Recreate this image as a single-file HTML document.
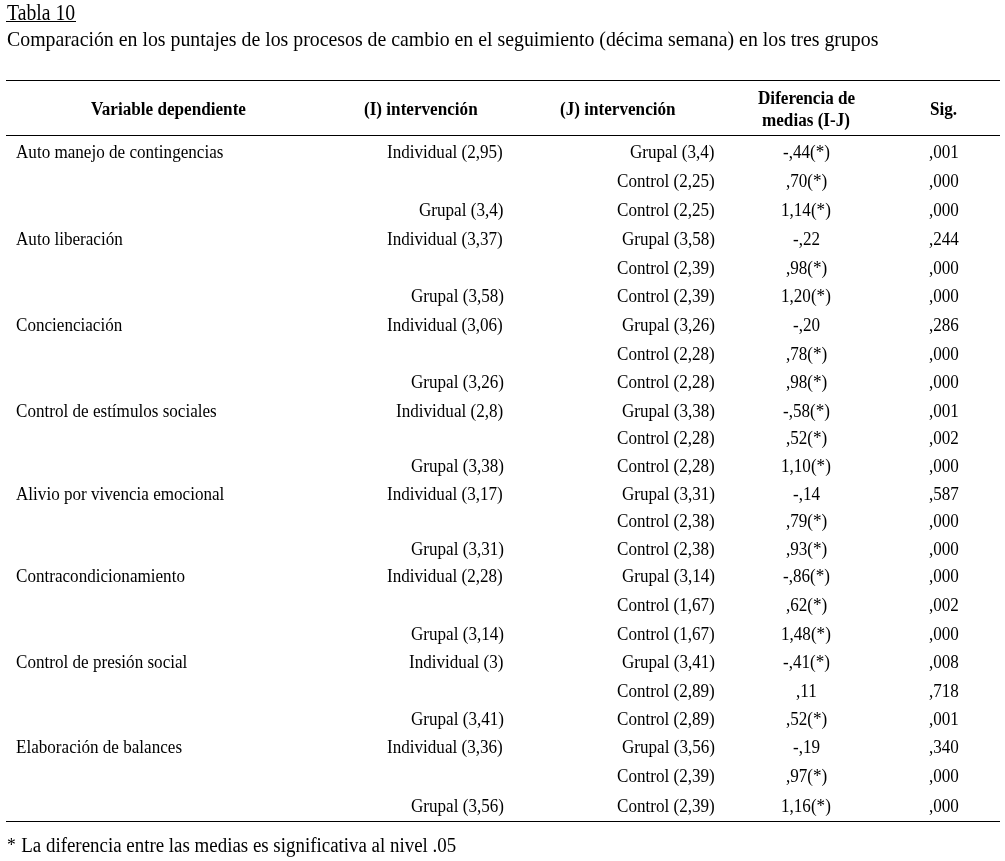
<!DOCTYPE html>
<html lang="es"><head><meta charset="utf-8"><title>Tabla 10</title>
<style>
html,body{margin:0;padding:0;background:#fff;}
body{width:1005px;height:861px;position:relative;overflow:hidden;filter:grayscale(1);font-family:"Liberation Serif","Times New Roman",serif;color:#000;}
.t{position:absolute;white-space:nowrap;transform-origin:0 0;color:#000;}
.rule{position:absolute;left:6px;width:994px;height:1px;background:#000;}
</style></head><body>
<div class="rule" style="left:6px;top:21px;width:70px"></div>
<div class="rule" style="top:80px"></div>
<div class="rule" style="top:135px"></div>
<div class="rule" style="top:821px"></div>
<div class="t" style="left:7.20px;top:0px;font-size:24px;line-height:24px;transform:scaleX(0.821);">Tabla 10</div>
<div class="t" style="left:7.10px;top:28px;font-size:22px;line-height:22px;transform:scaleX(0.901);">Comparación en los puntajes de los procesos de cambio en el seguimiento (décima semana) en los tres grupos</div>
<div class="t" style="left:90.87px;top:99px;font-size:19.7px;line-height:19.7px;transform:scaleX(0.87);font-weight:bold;">Variable dependiente</div>
<div class="t" style="left:364.12px;top:99px;font-size:19.7px;line-height:19.7px;transform:scaleX(0.87);font-weight:bold;">(I) intervención</div>
<div class="t" style="left:560.01px;top:99px;font-size:19.7px;line-height:19.7px;transform:scaleX(0.87);font-weight:bold;">(J) intervención</div>
<div class="t" style="left:757.62px;top:88px;font-size:19.7px;line-height:19.7px;transform:scaleX(0.87);font-weight:bold;">Diferencia de</div>
<div class="t" style="left:762.07px;top:110px;font-size:19.7px;line-height:19.7px;transform:scaleX(0.87);font-weight:bold;">medias (I-J)</div>
<div class="t" style="left:930.41px;top:99px;font-size:19.7px;line-height:19.7px;transform:scaleX(0.87);font-weight:bold;">Sig.</div>
<div class="t" style="left:15.93px;top:142px;font-size:19.7px;line-height:19.7px;transform:scaleX(0.868);">Auto manejo de contingencias</div>
<div class="t" style="left:387.36px;top:142px;font-size:19.7px;line-height:19.7px;transform:scaleX(0.868);">Individual (2,95)</div>
<div class="t" style="left:629.80px;top:142px;font-size:19.7px;line-height:19.7px;transform:scaleX(0.868);">Grupal (3,4)</div>
<div class="t" style="left:782.71px;top:142px;font-size:19.7px;line-height:19.7px;transform:scaleX(0.868);">-,44(*)</div>
<div class="t" style="left:929.05px;top:142px;font-size:19.7px;line-height:19.7px;transform:scaleX(0.868);">,001</div>
<div class="t" style="left:616.78px;top:171px;font-size:19.7px;line-height:19.7px;transform:scaleX(0.868);">Control (2,25)</div>
<div class="t" style="left:785.55px;top:171px;font-size:19.7px;line-height:19.7px;transform:scaleX(0.868);">,70(*)</div>
<div class="t" style="left:929.05px;top:171px;font-size:19.7px;line-height:19.7px;transform:scaleX(0.868);">,000</div>
<div class="t" style="left:418.60px;top:200px;font-size:19.7px;line-height:19.7px;transform:scaleX(0.868);">Grupal (3,4)</div>
<div class="t" style="left:616.78px;top:200px;font-size:19.7px;line-height:19.7px;transform:scaleX(0.868);">Control (2,25)</div>
<div class="t" style="left:781.28px;top:200px;font-size:19.7px;line-height:19.7px;transform:scaleX(0.868);">1,14(*)</div>
<div class="t" style="left:929.05px;top:200px;font-size:19.7px;line-height:19.7px;transform:scaleX(0.868);">,000</div>
<div class="t" style="left:15.93px;top:229px;font-size:19.7px;line-height:19.7px;transform:scaleX(0.868);">Auto liberación</div>
<div class="t" style="left:387.36px;top:229px;font-size:19.7px;line-height:19.7px;transform:scaleX(0.868);">Individual (3,37)</div>
<div class="t" style="left:621.99px;top:229px;font-size:19.7px;line-height:19.7px;transform:scaleX(0.868);">Grupal (3,58)</div>
<div class="t" style="left:792.67px;top:229px;font-size:19.7px;line-height:19.7px;transform:scaleX(0.868);">-,22</div>
<div class="t" style="left:929.05px;top:229px;font-size:19.7px;line-height:19.7px;transform:scaleX(0.868);">,244</div>
<div class="t" style="left:616.78px;top:258px;font-size:19.7px;line-height:19.7px;transform:scaleX(0.868);">Control (2,39)</div>
<div class="t" style="left:785.55px;top:258px;font-size:19.7px;line-height:19.7px;transform:scaleX(0.868);">,98(*)</div>
<div class="t" style="left:929.05px;top:258px;font-size:19.7px;line-height:19.7px;transform:scaleX(0.868);">,000</div>
<div class="t" style="left:410.79px;top:286px;font-size:19.7px;line-height:19.7px;transform:scaleX(0.868);">Grupal (3,58)</div>
<div class="t" style="left:616.78px;top:286px;font-size:19.7px;line-height:19.7px;transform:scaleX(0.868);">Control (2,39)</div>
<div class="t" style="left:781.28px;top:286px;font-size:19.7px;line-height:19.7px;transform:scaleX(0.868);">1,20(*)</div>
<div class="t" style="left:929.05px;top:286px;font-size:19.7px;line-height:19.7px;transform:scaleX(0.868);">,000</div>
<div class="t" style="left:15.93px;top:315px;font-size:19.7px;line-height:19.7px;transform:scaleX(0.868);">Concienciación</div>
<div class="t" style="left:387.36px;top:315px;font-size:19.7px;line-height:19.7px;transform:scaleX(0.868);">Individual (3,06)</div>
<div class="t" style="left:621.99px;top:315px;font-size:19.7px;line-height:19.7px;transform:scaleX(0.868);">Grupal (3,26)</div>
<div class="t" style="left:792.67px;top:315px;font-size:19.7px;line-height:19.7px;transform:scaleX(0.868);">-,20</div>
<div class="t" style="left:929.05px;top:315px;font-size:19.7px;line-height:19.7px;transform:scaleX(0.868);">,286</div>
<div class="t" style="left:616.78px;top:344px;font-size:19.7px;line-height:19.7px;transform:scaleX(0.868);">Control (2,28)</div>
<div class="t" style="left:785.55px;top:344px;font-size:19.7px;line-height:19.7px;transform:scaleX(0.868);">,78(*)</div>
<div class="t" style="left:929.05px;top:344px;font-size:19.7px;line-height:19.7px;transform:scaleX(0.868);">,000</div>
<div class="t" style="left:410.79px;top:372px;font-size:19.7px;line-height:19.7px;transform:scaleX(0.868);">Grupal (3,26)</div>
<div class="t" style="left:616.78px;top:372px;font-size:19.7px;line-height:19.7px;transform:scaleX(0.868);">Control (2,28)</div>
<div class="t" style="left:785.55px;top:372px;font-size:19.7px;line-height:19.7px;transform:scaleX(0.868);">,98(*)</div>
<div class="t" style="left:929.05px;top:372px;font-size:19.7px;line-height:19.7px;transform:scaleX(0.868);">,000</div>
<div class="t" style="left:15.93px;top:401px;font-size:19.7px;line-height:19.7px;transform:scaleX(0.868);">Control de estímulos sociales</div>
<div class="t" style="left:396.04px;top:401px;font-size:19.7px;line-height:19.7px;transform:scaleX(0.868);">Individual (2,8)</div>
<div class="t" style="left:621.99px;top:401px;font-size:19.7px;line-height:19.7px;transform:scaleX(0.868);">Grupal (3,38)</div>
<div class="t" style="left:782.71px;top:401px;font-size:19.7px;line-height:19.7px;transform:scaleX(0.868);">-,58(*)</div>
<div class="t" style="left:929.05px;top:401px;font-size:19.7px;line-height:19.7px;transform:scaleX(0.868);">,001</div>
<div class="t" style="left:616.78px;top:428px;font-size:19.7px;line-height:19.7px;transform:scaleX(0.868);">Control (2,28)</div>
<div class="t" style="left:785.55px;top:428px;font-size:19.7px;line-height:19.7px;transform:scaleX(0.868);">,52(*)</div>
<div class="t" style="left:929.05px;top:428px;font-size:19.7px;line-height:19.7px;transform:scaleX(0.868);">,002</div>
<div class="t" style="left:410.79px;top:456px;font-size:19.7px;line-height:19.7px;transform:scaleX(0.868);">Grupal (3,38)</div>
<div class="t" style="left:616.78px;top:456px;font-size:19.7px;line-height:19.7px;transform:scaleX(0.868);">Control (2,28)</div>
<div class="t" style="left:781.28px;top:456px;font-size:19.7px;line-height:19.7px;transform:scaleX(0.868);">1,10(*)</div>
<div class="t" style="left:929.05px;top:456px;font-size:19.7px;line-height:19.7px;transform:scaleX(0.868);">,000</div>
<div class="t" style="left:15.93px;top:484px;font-size:19.7px;line-height:19.7px;transform:scaleX(0.868);">Alivio por vivencia emocional</div>
<div class="t" style="left:387.36px;top:484px;font-size:19.7px;line-height:19.7px;transform:scaleX(0.868);">Individual (3,17)</div>
<div class="t" style="left:621.99px;top:484px;font-size:19.7px;line-height:19.7px;transform:scaleX(0.868);">Grupal (3,31)</div>
<div class="t" style="left:792.67px;top:484px;font-size:19.7px;line-height:19.7px;transform:scaleX(0.868);">-,14</div>
<div class="t" style="left:929.05px;top:484px;font-size:19.7px;line-height:19.7px;transform:scaleX(0.868);">,587</div>
<div class="t" style="left:616.78px;top:511px;font-size:19.7px;line-height:19.7px;transform:scaleX(0.868);">Control (2,38)</div>
<div class="t" style="left:785.55px;top:511px;font-size:19.7px;line-height:19.7px;transform:scaleX(0.868);">,79(*)</div>
<div class="t" style="left:929.05px;top:511px;font-size:19.7px;line-height:19.7px;transform:scaleX(0.868);">,000</div>
<div class="t" style="left:410.79px;top:539px;font-size:19.7px;line-height:19.7px;transform:scaleX(0.868);">Grupal (3,31)</div>
<div class="t" style="left:616.78px;top:539px;font-size:19.7px;line-height:19.7px;transform:scaleX(0.868);">Control (2,38)</div>
<div class="t" style="left:785.55px;top:539px;font-size:19.7px;line-height:19.7px;transform:scaleX(0.868);">,93(*)</div>
<div class="t" style="left:929.05px;top:539px;font-size:19.7px;line-height:19.7px;transform:scaleX(0.868);">,000</div>
<div class="t" style="left:15.93px;top:566px;font-size:19.7px;line-height:19.7px;transform:scaleX(0.868);">Contracondicionamiento</div>
<div class="t" style="left:387.36px;top:566px;font-size:19.7px;line-height:19.7px;transform:scaleX(0.868);">Individual (2,28)</div>
<div class="t" style="left:621.99px;top:566px;font-size:19.7px;line-height:19.7px;transform:scaleX(0.868);">Grupal (3,14)</div>
<div class="t" style="left:782.71px;top:566px;font-size:19.7px;line-height:19.7px;transform:scaleX(0.868);">-,86(*)</div>
<div class="t" style="left:929.05px;top:566px;font-size:19.7px;line-height:19.7px;transform:scaleX(0.868);">,000</div>
<div class="t" style="left:616.78px;top:595px;font-size:19.7px;line-height:19.7px;transform:scaleX(0.868);">Control (1,67)</div>
<div class="t" style="left:785.55px;top:595px;font-size:19.7px;line-height:19.7px;transform:scaleX(0.868);">,62(*)</div>
<div class="t" style="left:929.05px;top:595px;font-size:19.7px;line-height:19.7px;transform:scaleX(0.868);">,002</div>
<div class="t" style="left:410.79px;top:624px;font-size:19.7px;line-height:19.7px;transform:scaleX(0.868);">Grupal (3,14)</div>
<div class="t" style="left:616.78px;top:624px;font-size:19.7px;line-height:19.7px;transform:scaleX(0.868);">Control (1,67)</div>
<div class="t" style="left:781.28px;top:624px;font-size:19.7px;line-height:19.7px;transform:scaleX(0.868);">1,48(*)</div>
<div class="t" style="left:929.05px;top:624px;font-size:19.7px;line-height:19.7px;transform:scaleX(0.868);">,000</div>
<div class="t" style="left:15.93px;top:652px;font-size:19.7px;line-height:19.7px;transform:scaleX(0.868);">Control de presión social</div>
<div class="t" style="left:409.06px;top:652px;font-size:19.7px;line-height:19.7px;transform:scaleX(0.868);">Individual (3)</div>
<div class="t" style="left:621.99px;top:652px;font-size:19.7px;line-height:19.7px;transform:scaleX(0.868);">Grupal (3,41)</div>
<div class="t" style="left:782.71px;top:652px;font-size:19.7px;line-height:19.7px;transform:scaleX(0.868);">-,41(*)</div>
<div class="t" style="left:929.05px;top:652px;font-size:19.7px;line-height:19.7px;transform:scaleX(0.868);">,008</div>
<div class="t" style="left:616.78px;top:681px;font-size:19.7px;line-height:19.7px;transform:scaleX(0.868);">Control (2,89)</div>
<div class="t" style="left:795.83px;top:681px;font-size:19.7px;line-height:19.7px;transform:scaleX(0.868);">,11</div>
<div class="t" style="left:929.05px;top:681px;font-size:19.7px;line-height:19.7px;transform:scaleX(0.868);">,718</div>
<div class="t" style="left:410.79px;top:709px;font-size:19.7px;line-height:19.7px;transform:scaleX(0.868);">Grupal (3,41)</div>
<div class="t" style="left:616.78px;top:709px;font-size:19.7px;line-height:19.7px;transform:scaleX(0.868);">Control (2,89)</div>
<div class="t" style="left:785.55px;top:709px;font-size:19.7px;line-height:19.7px;transform:scaleX(0.868);">,52(*)</div>
<div class="t" style="left:929.05px;top:709px;font-size:19.7px;line-height:19.7px;transform:scaleX(0.868);">,001</div>
<div class="t" style="left:15.93px;top:737px;font-size:19.7px;line-height:19.7px;transform:scaleX(0.868);">Elaboración de balances</div>
<div class="t" style="left:387.36px;top:737px;font-size:19.7px;line-height:19.7px;transform:scaleX(0.868);">Individual (3,36)</div>
<div class="t" style="left:621.99px;top:737px;font-size:19.7px;line-height:19.7px;transform:scaleX(0.868);">Grupal (3,56)</div>
<div class="t" style="left:792.67px;top:737px;font-size:19.7px;line-height:19.7px;transform:scaleX(0.868);">-,19</div>
<div class="t" style="left:929.05px;top:737px;font-size:19.7px;line-height:19.7px;transform:scaleX(0.868);">,340</div>
<div class="t" style="left:616.78px;top:766px;font-size:19.7px;line-height:19.7px;transform:scaleX(0.868);">Control (2,39)</div>
<div class="t" style="left:785.55px;top:766px;font-size:19.7px;line-height:19.7px;transform:scaleX(0.868);">,97(*)</div>
<div class="t" style="left:929.05px;top:766px;font-size:19.7px;line-height:19.7px;transform:scaleX(0.868);">,000</div>
<div class="t" style="left:410.79px;top:796px;font-size:19.7px;line-height:19.7px;transform:scaleX(0.868);">Grupal (3,56)</div>
<div class="t" style="left:616.78px;top:796px;font-size:19.7px;line-height:19.7px;transform:scaleX(0.868);">Control (2,39)</div>
<div class="t" style="left:781.28px;top:796px;font-size:19.7px;line-height:19.7px;transform:scaleX(0.868);">1,16(*)</div>
<div class="t" style="left:929.05px;top:796px;font-size:19.7px;line-height:19.7px;transform:scaleX(0.868);">,000</div>
<div class="t" style="left:7.05px;top:835px;font-size:20px;line-height:20px;transform:scaleX(0.946);"><span style="font-size:18.5px;line-height:0;vertical-align:1px;margin-right:0.8px">*</span> La diferencia entre las medias es significativa al nivel .05</div>
</body></html>
